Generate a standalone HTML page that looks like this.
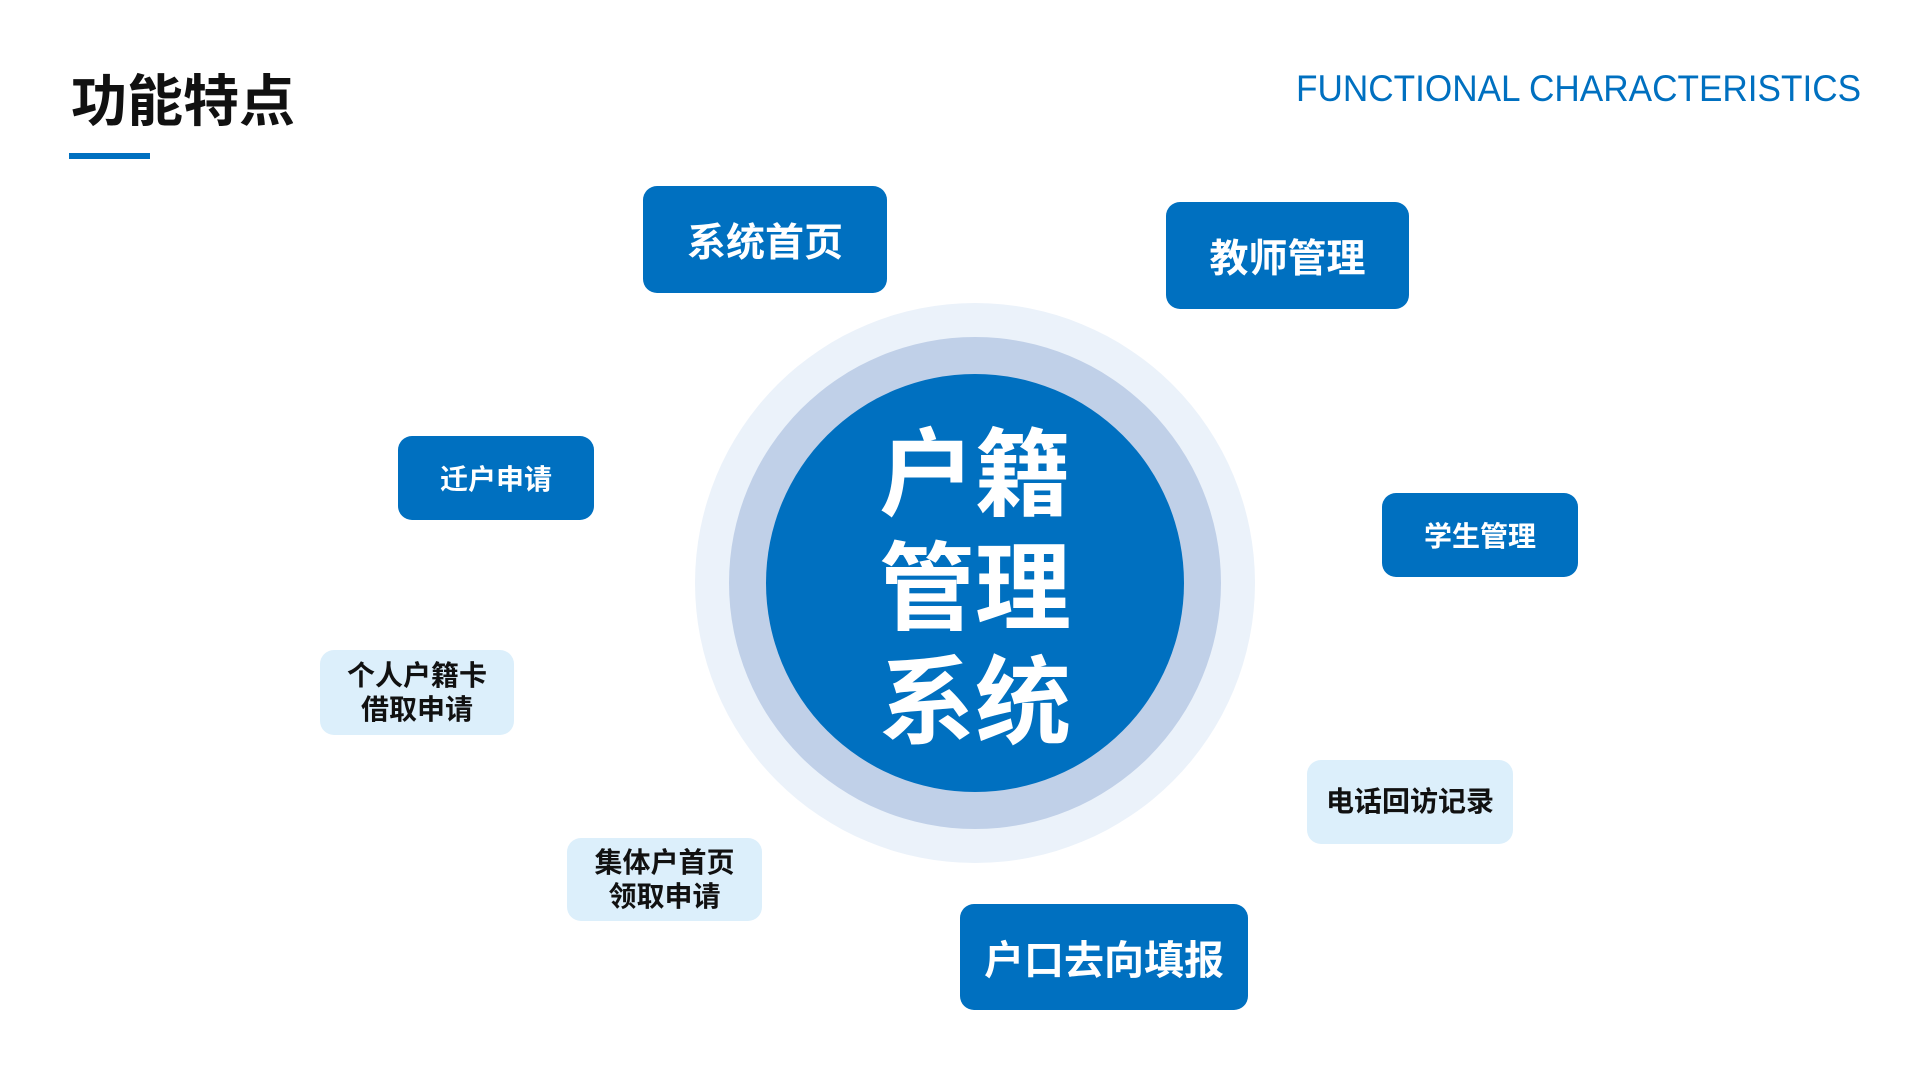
<!DOCTYPE html>
<html><head><meta charset="utf-8"><style>
html,body{margin:0;padding:0;}
body{width:1920px;height:1079px;background:#fff;position:relative;overflow:hidden;font-family:"Liberation Sans","Noto Sans CJK SC",sans-serif;}
.a{position:absolute;}
.c{border-radius:50%;position:absolute;}
.b{position:absolute;display:flex;align-items:center;justify-content:center;text-align:center;border-radius:14px;font-weight:bold;}
.d{background:#0070c0;color:#fff;}
.l{background:#dceffb;color:#111;line-height:1.2;}
</style></head><body>
<div class="a" style="left:71px;top:70px;font-size:56px;font-weight:bold;color:#111;line-height:64px;">功能特点</div>
<div class="a" style="left:69px;top:153px;width:81px;height:6px;background:#0070c0;"></div>
<div class="a" style="left:1296px;top:67px;font-size:37px;color:#0070c0;line-height:44px;white-space:nowrap;transform:scaleX(0.95);transform-origin:0 0;">FUNCTIONAL CHARACTERISTICS</div>

<div class="c" style="left:695px;top:303px;width:560px;height:560px;background:#ebf2fa;"></div>
<div class="c" style="left:729px;top:337px;width:492px;height:492px;background:#c0d0e8;"></div>
<div class="c" style="left:766px;top:374px;width:418px;height:418px;background:#0070c0;"></div>
<div class="a" style="left:775px;top:419px;width:400px;text-align:center;color:#fff;font-weight:bold;font-size:96px;line-height:114px;">户籍<br>管理<br>系统</div>

<div class="b d" style="left:643px;top:186px;width:244px;height:107px;font-size:39px;">系统首页</div>
<div class="b d" style="left:1166px;top:202px;width:243px;height:107px;font-size:39px;">教师管理</div>
<div class="b d" style="left:398px;top:436px;width:196px;height:84px;font-size:28px;">迁户申请</div>
<div class="b d" style="left:1382px;top:493px;width:196px;height:84px;font-size:28px;">学生管理</div>
<div class="b l" style="left:320px;top:650px;width:194px;height:85px;font-size:28px;">个人户籍卡<br>借取申请</div>
<div class="b l" style="left:1307px;top:760px;width:206px;height:84px;font-size:28px;">电话回访记录</div>
<div class="b l" style="left:567px;top:838px;width:195px;height:83px;font-size:28px;">集体户首页<br>领取申请</div>
<div class="b d" style="left:960px;top:904px;width:288px;height:106px;font-size:40px;">户口去向填报</div>
</body></html>
